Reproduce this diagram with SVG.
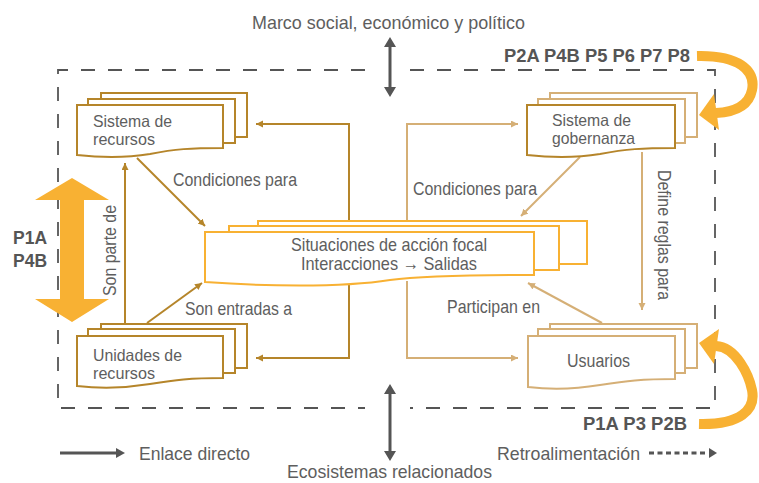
<svg xmlns="http://www.w3.org/2000/svg" width="759" height="483" viewBox="0 0 759 483">
<style>
.t{font-family:"Liberation Sans",Arial,sans-serif;font-size:18.5px;fill:#5e5e5e}
.n{font-size:16.5px}
.b{font-family:"Liberation Sans",Arial,sans-serif;font-size:18px;font-weight:bold;fill:#555}
.dg{fill:#fff;stroke:#B5852A;stroke-width:2}
.tn{fill:#fff;stroke:#D5AF76;stroke-width:2}
.or{fill:#fff;stroke:#F8B133;stroke-width:2}
.cdg{fill:none;stroke:#B5852A;stroke-width:2}
.ctn{fill:none;stroke:#D5AF76;stroke-width:2}
.frame{fill:none;stroke:#555;stroke-width:1.8;stroke-dasharray:14 13}
.gl{fill:none;stroke:#555;stroke-width:3}
</style>
<defs>
<marker id="mdg" markerUnits="userSpaceOnUse" markerWidth="8" markerHeight="8" refX="7" refY="3.5" orient="auto"><path d="M0,0 L7,3.5 L0,7 z" fill="#B5852A"/></marker>
<marker id="mtn" markerUnits="userSpaceOnUse" markerWidth="8" markerHeight="8" refX="7" refY="3.5" orient="auto"><path d="M0,0 L7,3.5 L0,7 z" fill="#D5AF76"/></marker>
</defs>

<g id="frame">
<path class="frame" d="M365,70 H58 V408 H365"/>
<path class="frame" d="M410,70 H715 V408 H410"/>
</g>

<g id="marco">
<text class="t" x="252" y="29" textLength="273" lengthAdjust="spacingAndGlyphs">Marco social, económico y político</text>
<line class="gl" x1="390" y1="46" x2="390" y2="88"/>
<path d="M384,47 L390,37 L396,47 z M384,87 L390,97 L396,87 z" fill="#555"/>
</g>

<g id="ecosistemas">
<line class="gl" x1="390" y1="393" x2="390" y2="452"/>
<path d="M384,394 L390,384 L396,394 z M384,451 L390,461 L396,451 z" fill="#555"/>
<text class="t" x="287" y="478" textLength="205" lengthAdjust="spacingAndGlyphs">Ecosistemas relacionados</text>
</g>

<g id="connectors">
<path class="cdg" d="M349,221 V124 H256" marker-end="url(#mdg)"/>
<path class="cdg" d="M349,285 V358 H256" marker-end="url(#mdg)"/>
<path class="ctn" d="M407,221 V124 H518" marker-end="url(#mtn)"/>
<path class="ctn" d="M407,281 V358 H518" marker-end="url(#mtn)"/>
<path class="cdg" d="M137,158 L205,226" marker-end="url(#mdg)"/>
<path class="cdg" d="M147,323 L202,283" marker-end="url(#mdg)"/>
<path class="cdg" d="M125,324 V163" marker-end="url(#mdg)"/>
<path class="ctn" d="M580,157 L521,216" marker-end="url(#mtn)"/>
<path class="ctn" d="M602,323 L528,283" marker-end="url(#mtn)"/>
<path class="ctn" d="M642,152 V310" marker-end="url(#mtn)"/>
<text class="t" x="173" y="186" textLength="124" lengthAdjust="spacingAndGlyphs">Condiciones para</text>
<text class="t" x="413" y="195" textLength="124" lengthAdjust="spacingAndGlyphs">Condiciones para</text>
<text class="t" x="185" y="315" textLength="107" lengthAdjust="spacingAndGlyphs">Son entradas a</text>
<text class="t" x="447" y="313" textLength="93" lengthAdjust="spacingAndGlyphs">Participan en</text>
<text class="t" transform="translate(116,296) rotate(-90)" x="0" y="0" textLength="91" lengthAdjust="spacingAndGlyphs">Son parte de</text>
<text class="t" transform="translate(658,170) rotate(90)" x="0" y="0" textLength="130" lengthAdjust="spacingAndGlyphs">Define reglas para</text>
</g>

<g id="sistema-recursos">
<rect class="dg" x="101" y="93" width="146" height="44"/>
<rect class="dg" x="88" y="99" width="147" height="44"/>
<path class="dg" d="M77,105 H223 V148 C190,148 175,149 150,154 C120,159 95,157 77,155 Z"/>
<text class="t n" x="93" y="127" textLength="79" lengthAdjust="spacingAndGlyphs">Sistema de</text>
<text class="t n" x="93" y="145" textLength="62" lengthAdjust="spacingAndGlyphs">recursos</text>
</g>

<g id="sistema-gobernanza">
<rect class="tn" x="550" y="93" width="147" height="44"/>
<rect class="tn" x="538" y="99" width="147" height="44"/>
<path class="dg" d="M527,105 H675 V148 C642,148 626,149 600,154 C570,159 545,157 527,155 Z"/>
<text class="t n" x="552" y="126" textLength="79" lengthAdjust="spacingAndGlyphs">Sistema de</text>
<text class="t n" x="552" y="144" textLength="83" lengthAdjust="spacingAndGlyphs">gobernanza</text>
</g>

<g id="situaciones">
<rect class="or" x="258" y="221" width="329" height="43"/>
<rect class="or" x="229" y="226" width="330" height="44"/>
<path class="or" d="M205,232 H534 V275 C470,275 420,276 390,280 C340,288 260,286 205,282 Z"/>
<text class="t" x="291" y="251" textLength="196" lengthAdjust="spacingAndGlyphs">Situaciones de acción focal</text>
<text class="t" x="301" y="270" textLength="176" lengthAdjust="spacingAndGlyphs">Interacciones → Salidas</text>
</g>

<g id="unidades-recursos">
<rect class="dg" x="101" y="324" width="146" height="44"/>
<rect class="dg" x="88" y="329" width="147" height="44"/>
<path class="dg" d="M77,336 H223 V378 C190,378 175,380 150,384 C120,389 95,388 77,386 Z"/>
<text class="t n" x="93" y="361" textLength="89" lengthAdjust="spacingAndGlyphs">Unidades de</text>
<text class="t n" x="93" y="379" textLength="62" lengthAdjust="spacingAndGlyphs">recursos</text>
</g>

<g id="usuarios">
<rect class="tn" x="550" y="324" width="147" height="44"/>
<rect class="tn" x="538" y="329" width="147" height="44"/>
<path class="tn" d="M528,336 H675 V379 C642,379 626,381 600,385 C570,390 545,389 528,387 Z"/>
<text class="t" x="567" y="367" textLength="63" lengthAdjust="spacingAndGlyphs">Usuarios</text>
</g>

<g id="p1a-p4b">
<path d="M72,178 L109,200 L84,200 L84,299 L109,299 L72,322 L35,299 L60,299 L60,200 L35,200 Z" fill="#F8B133"/>
<text class="b" x="13" y="244" textLength="34" lengthAdjust="spacingAndGlyphs">P1A</text>
<text class="b" x="13" y="267" textLength="34" lengthAdjust="spacingAndGlyphs">P4B</text>
</g>

<g id="p2a-feedback">
<text class="b" x="504" y="62" textLength="186" lengthAdjust="spacingAndGlyphs">P2A P4B P5 P6 P7 P8</text>
<path d="M697,56 C738,55 756,70 752,90 C749,105 736,112 716,113" fill="none" stroke="#F8B133" stroke-width="10"/>
<path d="M699,115 L714,94 L719,130 Z" fill="#F8B133"/>
</g>

<g id="p1a-feedback">
<text class="b" x="583" y="430" textLength="104" lengthAdjust="spacingAndGlyphs">P1A P3 P2B</text>
<path d="M699,424 C740,425 756,410 752,390 C749,375 736,347 716,346" fill="none" stroke="#F8B133" stroke-width="10"/>
<path d="M699,343 L719,329 L714,364 Z" fill="#F8B133"/>
</g>

<g id="legend">
<line class="gl" x1="60" y1="453" x2="117" y2="453"/>
<path d="M116,448 L125,453 L116,458 Z" fill="#555"/>
<text class="t" x="139" y="460" textLength="111" lengthAdjust="spacingAndGlyphs">Enlace directo</text>
<text class="t" x="497" y="460" textLength="143" lengthAdjust="spacingAndGlyphs">Retroalimentación</text>
<line x1="649" y1="453" x2="708" y2="453" stroke="#555" stroke-width="3" stroke-dasharray="5 3.5"/>
<path d="M709,448 L717,453 L709,458 Z" fill="#555"/>
</g>
</svg>
